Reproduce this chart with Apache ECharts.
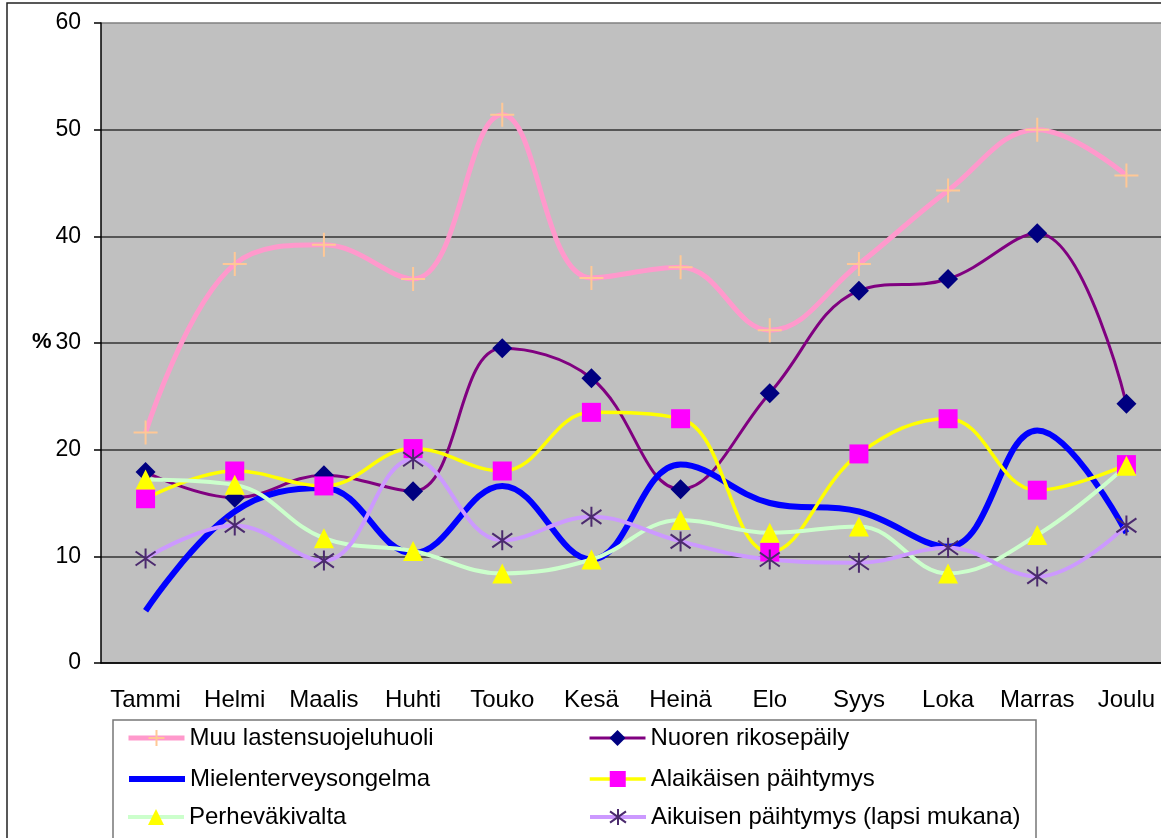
<!DOCTYPE html>
<html>
<head>
<meta charset="utf-8">
<script src="https://cdn.jsdelivr.net/npm/echarts@6/dist/echarts.min.js"></script>
<style>
  html, body { margin: 0; padding: 0; background: #fff; }
  #chart { width: 1161px; height: 838px; }
</style>
</head>
<body>
<div id="chart"></div>
<script>
const months = ['Tammi', 'Helmi', 'Maalis', 'Huhti', 'Touko', 'Kesä', 'Heinä', 'Elo', 'Syys', 'Loka', 'Marras', 'Joulu']

const muuLastensuojelu = [21.6, 37.4, 39.2, 36.0, 51.4, 36.1, 37.1, 31.2, 37.4, 44.3, 50.0, 45.7]
const nuorenRikos = [17.9, 15.5, 17.6, 16.1, 29.5, 26.7, 16.3, 25.3, 34.9, 36.0, 40.3, 24.3]
const mielenterveys = [4.9, 14.2, 16.4, 10.3, 16.6, 9.7, 18.6, 15.0, 14.2, 10.9, 21.8, 12.2]
const alaikaisenPaihtymys = [15.4, 18.0, 16.6, 20.1, 18.0, 23.5, 22.9, 10.4, 19.6, 22.9, 16.2, 18.6]
const perhevakivalta = [17.2, 16.7, 11.7, 10.5, 8.4, 9.7, 13.4, 12.2, 12.8, 8.4, 12.0, 18.5]
const aikuisenPaihtymys = [9.8, 12.9, 9.6, 19.1, 11.5, 13.7, 11.4, 9.7, 9.4, 10.8, 8.1, 12.9]

const yTicks = [0, 10, 20, 30, 40, 50, 60]

const plusPath = 'path://M0,-12L0,12M-12,0L12,0'
const starPath = 'path://M0,-10L0,10M-8,-7L8,7M-8,7L8,-7'
const font = '"Liberation Sans", Arial, sans-serif'

function lineSeries(name, data, lineColor, width, symbol, symbolSize, markColor, stroke) {
  let itemStyle = { color: markColor, borderWidth: 0 }
  if (stroke) itemStyle = { color: 'none', borderColor: markColor, borderWidth: 2 }
  if (!symbol) itemStyle = { color: 'rgba(0,0,0,0)', borderWidth: 0 }
  return {
    name, type: 'line', data,
    smooth: 0.4,
    symbol: symbol || 'circle',
    symbolSize,
    showSymbol: !!symbol,
    lineStyle: { color: lineColor, width },
    itemStyle,
    emphasis: { disabled: true },
    z: 2
  }
}

// one legend per entry, so the two columns sit like the original box
function legendItem(name, left, top, width) {
  return {
    left, top, padding: 0,
    itemWidth: 56, itemHeight: 20,
    textStyle: { fontSize: 24, color: '#000', fontFamily: font, lineHeight: 24 },
    lineStyle: { width },
    data: [name],
    selectedMode: false, z: 5
  }
}

const chart = echarts.init(document.getElementById('chart'))
chart.setOption({
  animation: false,
  textStyle: { fontFamily: font },
  // plot area runs a little past the right edge of the picture, as in the original
  grid: {
    left: 101, top: 23, width: 1070, bottom: 175,
    outerBoundsMode: 'none',
    show: true, backgroundColor: '#c0c0c0', borderWidth: 0
  },
  graphic: [
    { type: 'rect', shape: { x: 7, y: 3, width: 1200, height: 900 }, style: { fill: 'none', stroke: '#222', lineWidth: 1.5 }, z: -1 },
    { type: 'rect', shape: { x: 113, y: 720, width: 923, height: 140 }, style: { fill: '#fff', stroke: '#777', lineWidth: 1.5 }, z: 0 },
    { type: 'text', left: 32, top: 331, style: { text: '%', font: 'bold 22px ' + font, fill: '#000' } }
  ],
  xAxis: {
    type: 'category',
    data: months,
    boundaryGap: true,
    axisLine: { lineStyle: { color: '#000', width: 1.5 } },
    axisTick: { length: 7, lineStyle: { color: '#000', width: 1.5 } },
    axisLabel: { color: '#000', fontSize: 24, margin: 25, fontFamily: font, interval: 0 },
    splitLine: { show: false }
  },
  yAxis: {
    type: 'value',
    min: yTicks[0], max: yTicks[yTicks.length - 1], interval: 10,
    axisLine: { show: true, lineStyle: { color: '#000', width: 1.5 } },
    axisTick: { show: true, length: 7, lineStyle: { color: '#000', width: 1.5 } },
    axisLabel: { color: '#000', fontSize: 23, margin: 20, fontFamily: font },
    splitLine: { lineStyle: { color: ['#333', '#333', '#333', '#333', '#333', '#333', '#808080'], width: 1.5 } }
  },
  legend: [
    legendItem('Muu lastensuojeluhuoli', 126, 726, 5),
    legendItem('Mielenterveysongelma', 126, 767, 6),
    legendItem('Perheväkivalta', 126, 805, 4),
    legendItem('Nuoren rikosepäily', 588, 726, 3),
    legendItem('Alaikäisen päihtymys', 588, 767, 3.5),
    legendItem('Aikuisen päihtymys (lapsi mukana)', 588, 805, 4)
  ],
  series: [
    lineSeries('Muu lastensuojeluhuoli', muuLastensuojelu, '#ff99cc', 5, plusPath, 24, '#ffc896', true),
    lineSeries('Nuoren rikosepäily', nuorenRikos, '#800080', 3, 'diamond', 20, '#000080'),
    lineSeries('Mielenterveysongelma', mielenterveys, '#0000ff', 6, null, 0, '#0000ff'),
    lineSeries('Alaikäisen päihtymys', alaikaisenPaihtymys, '#ffff00', 3.5, 'rect', 19, '#ff00ff'),
    lineSeries('Perheväkivalta', perhevakivalta, '#ccffcc', 4, 'triangle', 20, '#ffff00'),
    lineSeries('Aikuisen päihtymys (lapsi mukana)', aikuisenPaihtymys, '#cc99ff', 4, starPath, 20, '#4b2a6e', true)
  ]
})
</script>
</body>
</html>
